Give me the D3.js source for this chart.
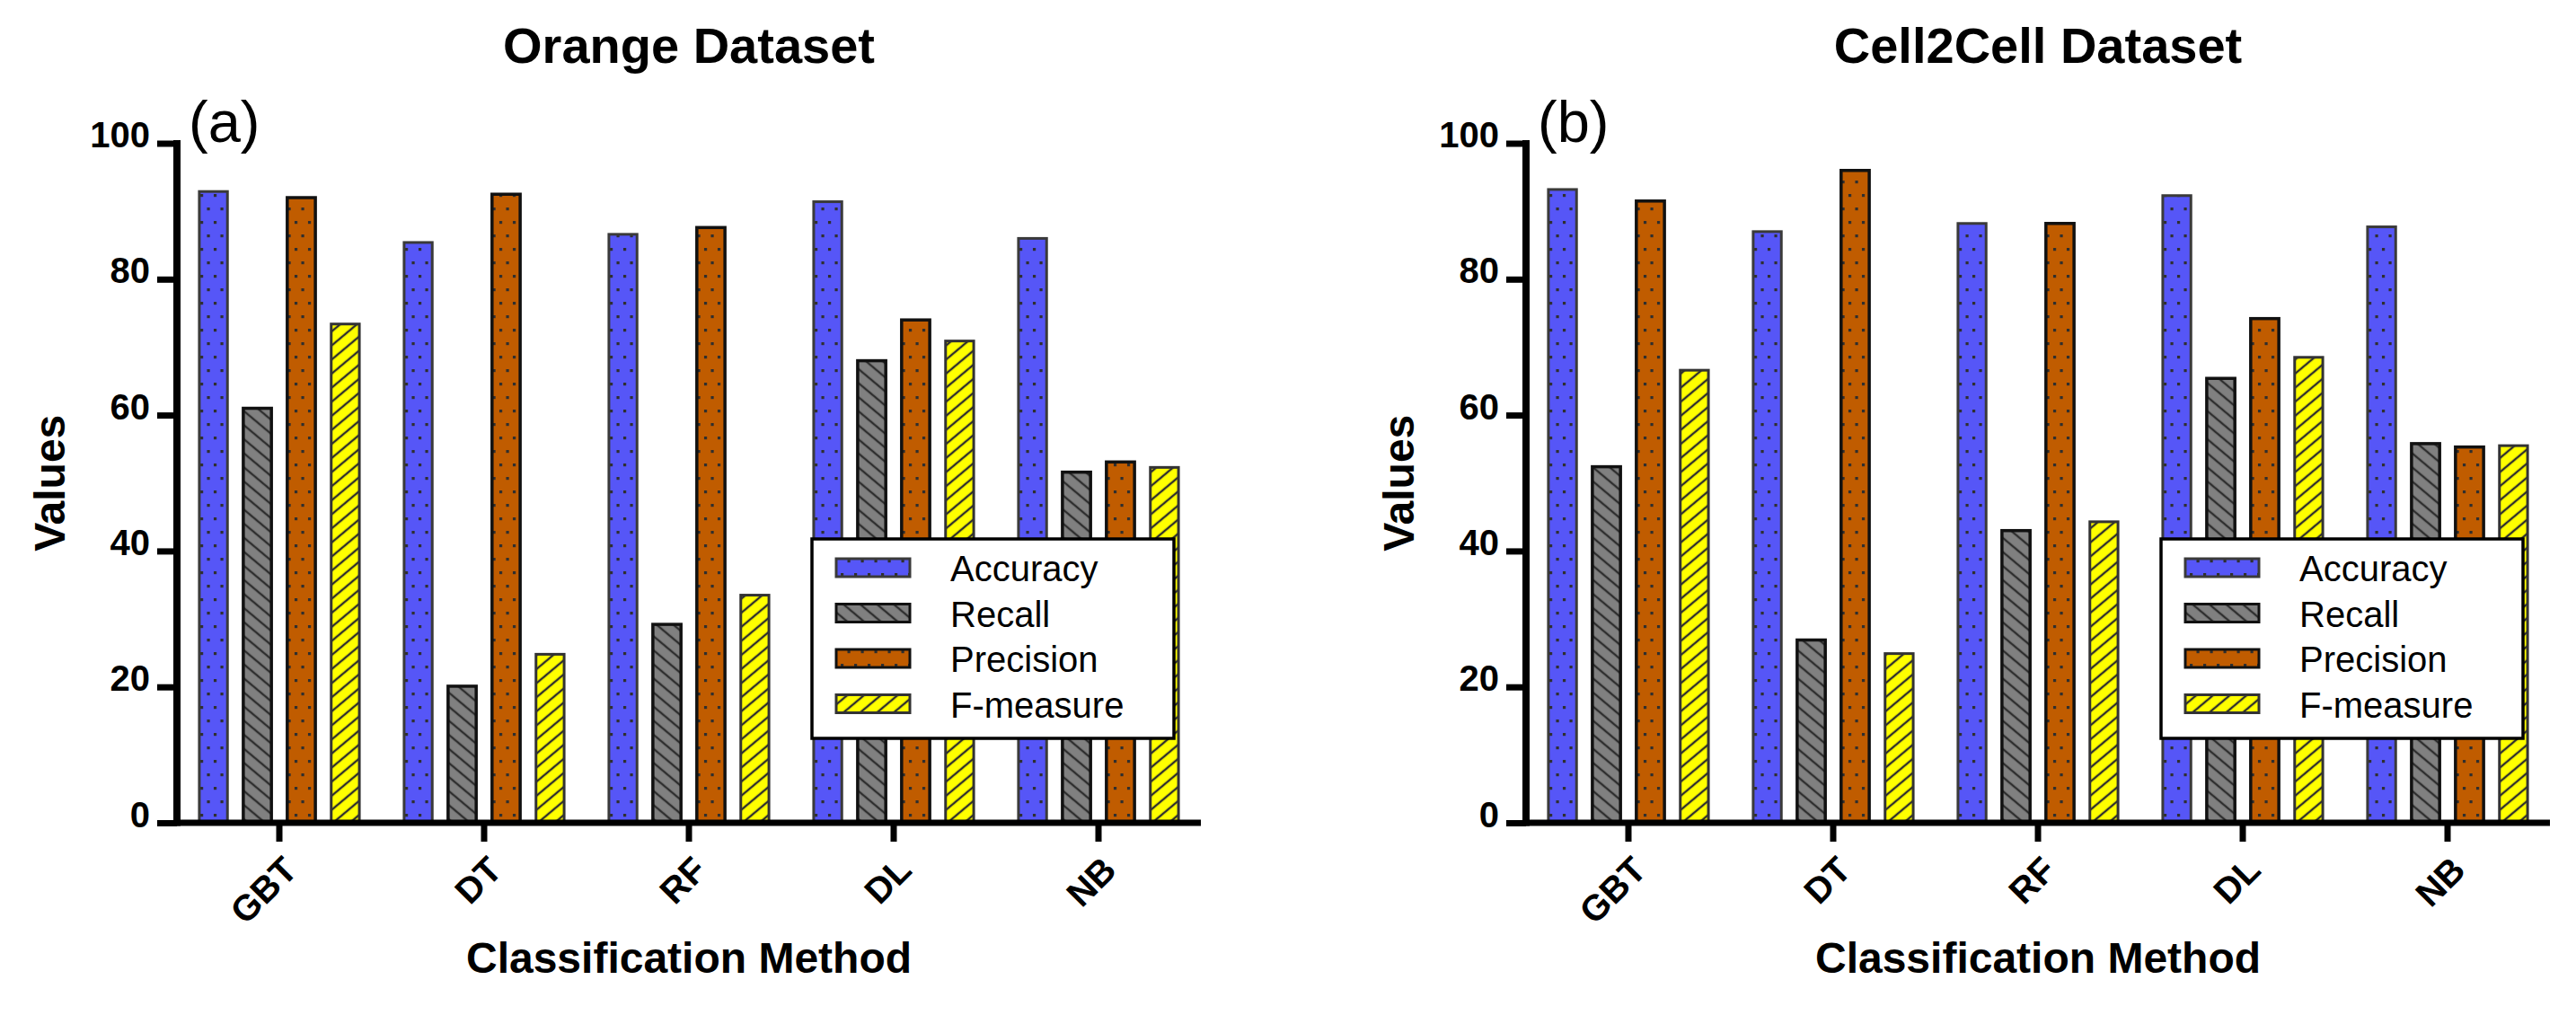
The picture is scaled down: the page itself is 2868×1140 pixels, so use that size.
<!DOCTYPE html>
<html>
<head>
<meta charset="utf-8">
<script src="https://cdnjs.cloudflare.com/ajax/libs/d3/7.8.5/d3.min.js"></script>
<style>
  body { margin: 0; background: #fff; }
  svg { display: block; font-family: "Liberation Sans", Arial, sans-serif; }
</style>
</head>
<body>
<svg width="2868" height="1140"></svg>
<script>
var methods = ['GBT', 'DT', 'RF', 'DL', 'NB'];
var metrics = ['Accuracy', 'Recall', 'Precision', 'F-measure'];
var yTicks = [0, 20, 40, 60, 80, 100];

// Orange dataset
var orangeAccuracy  = [92.9, 85.4, 86.6, 91.4, 86.0];
var orangeRecall    = [61.0, 20.1, 29.2, 68.0, 51.6];
var orangePrecision = [92.0, 92.5, 87.6, 74.0, 53.1];
var orangeFmeasure  = [73.4, 24.8, 33.5, 70.9, 52.3];

// Cell2Cell dataset
var cellAccuracy  = [93.2, 87.0, 88.2, 92.3, 87.7];
var cellRecall    = [52.4, 26.9, 43.0, 65.4, 55.8];
var cellPrecision = [91.5, 96.0, 88.2, 74.2, 55.3];
var cellFmeasure  = [66.6, 24.9, 44.3, 68.5, 55.5];

var svg = d3.select('svg');
svg.append('rect').attr('width', 2868).attr('height', 1140).attr('fill', '#fff');

var look = {
  'Accuracy':  { fill: 'url(#pat-acc)',  stroke: '#3a3a3a', sw: 3 },
  'Recall':    { fill: 'url(#pat-rec)',  stroke: '#111',    sw: 3.5 },
  'Precision': { fill: 'url(#pat-prec)', stroke: '#111',    sw: 3.5 },
  'F-measure': { fill: 'url(#pat-f)',    stroke: '#333',    sw: 3 }
};

// patterns
var defs = svg.append('defs');

function dots(id, color) {
  var p = defs.append('pattern').attr('id', id)
    .attr('patternUnits', 'userSpaceOnUse')
    .attr('width', 15).attr('height', 30);
  p.append('rect').attr('width', 15).attr('height', 30).attr('fill', color);
  p.append('rect').attr('x', 2).attr('y', 6).attr('width', 3.2).attr('height', 3.2).attr('fill', '#2e2e2e');
  p.append('rect').attr('x', 9.5).attr('y', 21).attr('width', 3.2).attr('height', 3.2).attr('fill', '#2e2e2e');
}
function hatch(id, color, angle) {
  var p = defs.append('pattern').attr('id', id)
    .attr('patternUnits', 'userSpaceOnUse')
    .attr('width', 12).attr('height', 12)
    .attr('patternTransform', 'rotate(' + angle + ')');
  p.append('rect').attr('width', 12).attr('height', 12).attr('fill', color);
  p.append('line').attr('x1', 0).attr('x2', 12).attr('y1', 6).attr('y2', 6)
    .attr('stroke', '#2e2e2e').attr('stroke-width', 2.4);
}
dots('pat-acc', '#5656f7');
hatch('pat-rec', '#808080', 40);
dots('pat-prec', '#c05c00');
hatch('pat-f', '#ffff00', -40);

function drawPanel(left, title, tag, series) {
  var right = left + 1140,
      g = svg.append('g');

  var y = d3.scaleLinear().domain([0, 100]).range([916, 159.5]);
  var x0 = d3.scaleBand().domain(methods).range([left, right])
        .paddingInner(0.21).paddingOuter(0.105);
  var x1 = d3.scaleBand().domain(metrics).range([0, x0.bandwidth()])
        .paddingInner(0.36).paddingOuter(0.02);

  var rows = methods.map(function(m, i) {
    return metrics.map(function(k, j) { return { method: m, metric: k, value: series[j][i] }; });
  });

  // bars
  g.selectAll('g.grp')
    .data(rows)
    .enter().append('g')
    .attr('class', 'grp')
    .attr('transform', function(d, i) { return 'translate(' + x0(methods[i]) + ',0)'; })
    .selectAll('rect')
    .data(function(d) { return d; })
    .enter().append('rect')
    .attr('x', function(d) { return x1(d.metric); })
    .attr('y', function(d) { return y(d.value); })
    .attr('width', x1.bandwidth())
    .attr('height', function(d) { return y(0) - y(d.value); })
    .attr('fill', function(d) { return look[d.metric].fill; })
    .attr('stroke', function(d) { return look[d.metric].stroke; })
    .attr('stroke-width', function(d) { return look[d.metric].sw; });

  // y axis
  var ya = g.append('g').attr('transform', 'translate(' + left + ',0)')
    .call(d3.axisLeft(y).tickValues(yTicks).tickSize(22).tickPadding(8));
  ya.select('.domain').remove();
  ya.selectAll('.tick line').attr('stroke', '#000').attr('stroke-width', 7);
  ya.selectAll('.tick text')
    .attr('dy', '0.1em')
    .style('font-family', '"Liberation Sans", Arial, sans-serif')
    .style('font-size', '40px').style('font-weight', 'bold').attr('fill', '#000');
  g.append('line')
    .attr('x1', left).attr('x2', left)
    .attr('y1', y(100) - 3.5).attr('y2', y(0) + 3.5)
    .attr('stroke', '#000').attr('stroke-width', 8);

  // x axis
  var xa = g.append('g').attr('transform', 'translate(0,' + y(0) + ')')
    .call(d3.axisBottom(x0).tickSize(21).tickPadding(0));
  xa.select('.domain').remove();
  xa.selectAll('.tick line').attr('stroke', '#000').attr('stroke-width', 7);
  xa.selectAll('.tick text')
    .attr('text-anchor', 'end')
    .attr('y', 0)
    .attr('dy', 0)
    .attr('transform', 'translate(22,55) rotate(-45)')
    .style('font-family', '"Liberation Sans", Arial, sans-serif')
    .style('font-size', '40px').style('font-weight', 'bold').attr('fill', '#000');
  g.append('line')
    .attr('x1', left - 4).attr('x2', right)
    .attr('y1', y(0)).attr('y2', y(0))
    .attr('stroke', '#000').attr('stroke-width', 7);

  // titles
  var mid = (left + right) / 2;
  g.append('text').attr('x', mid).attr('y', 70)
    .attr('text-anchor', 'middle')
    .style('font-size', '56px').style('font-weight', 'bold')
    .text(title);
  g.append('text').attr('x', left + 13).attr('y', 158)
    .style('font-size', '65px')
    .text(tag);
  g.append('text').attr('x', mid).attr('y', 1083)
    .attr('text-anchor', 'middle')
    .style('font-size', '48px').style('font-weight', 'bold')
    .text('Classification Method');
  g.append('text')
    .attr('transform', 'translate(' + (left - 125) + ',' + ((y(0) + y(100)) / 2) + ') rotate(-90)')
    .attr('text-anchor', 'middle')
    .style('font-size', '48px').style('font-weight', 'bold')
    .text('Values');

  // legend
  var lg = g.append('g').attr('transform', 'translate(' + (right - 433) + ',600)');
  lg.append('rect').attr('width', 403).attr('height', 222)
    .attr('fill', '#fff').attr('stroke', '#000').attr('stroke-width', 3.5);
  var item = lg.selectAll('g.item')
    .data(metrics)
    .enter().append('g')
    .attr('class', 'item')
    .attr('transform', function(d, i) { return 'translate(0,' + (32 + i * 50.5) + ')'; });
  item.append('rect')
    .attr('x', 27).attr('y', -10).attr('width', 82).attr('height', 20)
    .attr('fill', function(d) { return look[d].fill; })
    .attr('stroke', function(d) { return look[d].stroke; })
    .attr('stroke-width', 3);
  item.append('text')
    .attr('x', 154).attr('y', 15)
    .style('font-size', '40px')
    .text(function(d) { return d; });
}

drawPanel(197, 'Orange Dataset', '(a)', [orangeAccuracy, orangeRecall, orangePrecision, orangeFmeasure]);
drawPanel(1699, 'Cell2Cell Dataset', '(b)', [cellAccuracy, cellRecall, cellPrecision, cellFmeasure]);
</script>
</body>
</html>
